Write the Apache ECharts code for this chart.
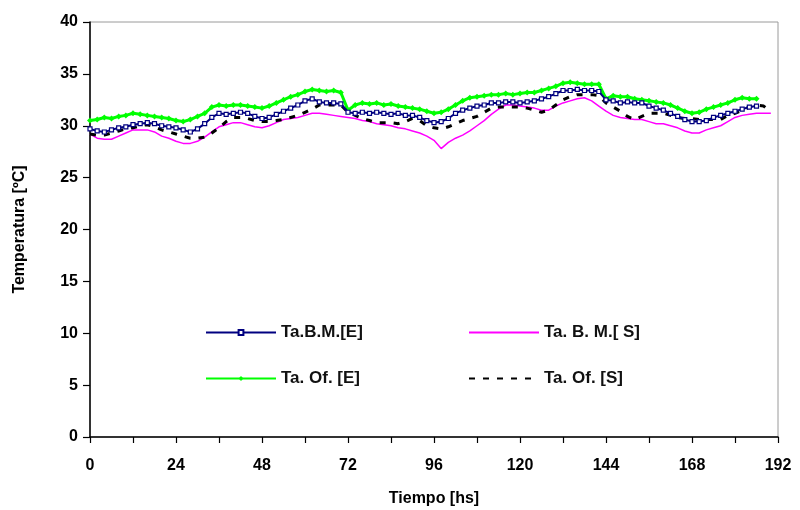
<!DOCTYPE html>
<html>
<head>
<meta charset="utf-8">
<script src="https://cdn.jsdelivr.net/npm/echarts@6/dist/echarts.min.js"></script>
<style>html,body{margin:0;padding:0;background:#fff;}#chart{width:800px;height:510px;}</style>
</head>
<body>
<div id="chart"></div>
<script>
var hours = [0,2,4,6,8,10,12,14,16,18,20,22,24,26,28,30,32,34,36,38,40,42,44,46,48,50,52,54,56,58,60,62,64,66,68,70,72,74,76,78,80,82,84,86,88,90,92,94,96,98,100,102,104,106,108,110,112,114,116,118,120,122,124,126,128,130,132,134,136,138,140,142,144,146,148,150,152,154,156,158,160,162,164,166,168,170,172,174,176,178,180,182,184,186,188,190];

var taBME = [29.7,29.5,29.4,29.6,29.8,29.9,30.1,30.2,30.3,30.2,30.0,29.9,29.8,29.6,29.4,29.7,30.2,30.8,31.2,31.1,31.2,31.3,31.2,30.9,30.7,30.8,31.1,31.4,31.7,32.0,32.4,32.6,32.3,32.2,32.2,32.1,31.3,31.2,31.3,31.2,31.3,31.2,31.1,31.2,31.0,31.0,30.8,30.5,30.3,30.4,30.7,31.2,31.5,31.7,31.9,32.0,32.2,32.2,32.3,32.3,32.2,32.3,32.4,32.6,32.8,33.1,33.4,33.4,33.5,33.4,33.4,33.3,32.5,32.4,32.2,32.3,32.2,32.2,31.9,31.7,31.5,31.2,30.9,30.6,30.4,30.4,30.5,30.8,31.0,31.2,31.4,31.6,31.8,31.9,null,null];

var taBMS = [29.2,28.8,28.7,28.7,29.0,29.3,29.6,29.6,29.6,29.4,29.0,28.8,28.5,28.3,28.3,28.5,28.9,29.4,29.9,30.1,30.3,30.3,30.1,29.9,29.8,30.0,30.3,30.6,30.7,30.8,31.0,31.2,31.2,31.1,31.0,30.9,30.8,30.7,30.5,30.4,30.2,30.1,30.0,29.8,29.7,29.5,29.3,29.0,28.6,27.8,28.4,28.8,29.1,29.5,30.0,30.5,31.1,31.6,32.0,32.0,31.9,31.8,31.7,31.5,31.5,31.9,32.2,32.4,32.6,32.7,32.4,31.9,31.4,31.0,30.8,30.7,30.6,30.6,30.4,30.2,30.2,30.0,29.8,29.5,29.3,29.3,29.6,29.8,30.0,30.4,30.8,31.0,31.1,31.2,31.2,31.2];

var taOfE = [30.5,30.6,30.8,30.7,30.9,31.0,31.2,31.1,31.0,30.9,30.8,30.7,30.5,30.4,30.6,30.9,31.2,31.8,32.0,31.9,32.0,32.0,31.9,31.8,31.7,31.9,32.2,32.5,32.8,33.0,33.3,33.5,33.4,33.3,33.4,33.2,31.5,32.0,32.2,32.1,32.2,32.0,32.1,31.9,31.8,31.7,31.6,31.4,31.2,31.3,31.6,32.0,32.4,32.7,32.8,32.9,33.0,33.0,33.1,33.0,33.1,33.2,33.2,33.4,33.6,33.8,34.1,34.2,34.1,34.0,34.0,34.0,32.6,32.9,32.8,32.8,32.6,32.5,32.4,32.3,32.2,32.0,31.7,31.4,31.2,31.3,31.6,31.8,32.0,32.2,32.5,32.7,32.6,32.6,null,null];

var taOfS = [29.2,29.1,29.1,29.3,29.5,29.7,29.8,30.0,30.1,29.9,29.6,29.4,29.2,29.0,28.8,28.8,28.9,29.3,29.8,30.4,30.8,30.8,30.7,30.5,30.4,30.4,30.5,30.6,30.8,31.0,31.3,31.6,32.0,32.0,32.0,32.0,31.3,31.0,30.7,30.5,30.3,30.3,30.3,30.2,30.4,30.7,30.5,30.0,29.8,29.7,29.9,30.2,30.5,30.7,30.9,31.3,31.7,31.8,31.8,31.8,31.8,31.7,31.5,31.3,31.5,32.0,32.5,32.8,33.0,33.0,33.0,32.9,32.2,31.8,31.4,30.9,30.6,30.9,31.2,31.2,31.2,31.0,30.8,30.7,30.7,30.6,30.6,30.6,30.6,31.0,31.2,31.5,31.8,32.0,31.9,31.3];

var xTicks = [0,24,48,72,96,120,144,168,192];
var seriesNames = ['Ta.B.M.[E]','Ta. B. M.[ S]','Ta. Of. [E]','Ta. Of. [S]'];

function pairs(vals){
  var out = [];
  for (var i = 0; i < hours.length; i++) {
    if (vals[i] !== null) out.push([hours[i], vals[i]]);
  }
  return out;
}

var chart = echarts.init(document.getElementById('chart'), null, {renderer:'canvas'});
var font = '"Liberation Sans", Arial, sans-serif';
var legTxt = {fontFamily: font, fontWeight: 'bold', fontSize: 17, color: '#111'};
function leg(name, left, top, hideSymbol, ih) {
  var item = {name: name};
  if (hideSymbol) item.itemStyle = {opacity: 0};
  return {data: [item], left: left, top: top, itemWidth: 70, itemHeight: ih || 7, itemGap: 0,
          padding: 0, textStyle: legTxt, selectedMode: false};
}
var option = {
  animation: false,
  backgroundColor: '#fff',
  grid: {left: 90, right: 22, top: 22, bottom: 73, show: true, borderColor: '#9a9a9a', borderWidth: 1,
         outerBoundsMode: 'none', containLabel: false},
  legend: [
    leg(seriesNames[0], 205, 324, false, 6),
    leg(seriesNames[1], 468, 324, true),
    leg(seriesNames[2], 205, 370, false, 6),
    leg(seriesNames[3], 468, 370, true)
  ],
  xAxis: {
    type: 'value', min: 0, max: 192, interval: 24,
    name: 'Tiempo [hs]', nameLocation: 'middle', nameGap: 54,
    nameTextStyle: {fontFamily: font, fontWeight: 'bold', fontSize: 16, color: '#000'},
    axisLine: {show: true, lineStyle: {color: '#000', width: 1.5}},
    axisTick: {show: true, length: 6, inside: false, lineStyle: {color: '#000', width: 1.2}},
    minorTick: {show: true, splitNumber: 2, length: 6, lineStyle: {color: '#000', width: 1.2}},
    splitLine: {show: false},
    axisLabel: {fontFamily: font, fontWeight: 'bold', fontSize: 16, color: '#000', margin: 21,
      formatter: function(v){ return xTicks.indexOf(v) >= 0 ? String(v) : ''; }}
  },
  yAxis: {
    type: 'value', min: 0, max: 40, interval: 5,
    name: 'Temperatura [ºC]', nameLocation: 'middle', nameGap: 62,
    nameTextStyle: {fontFamily: font, fontWeight: 'bold', fontSize: 16, color: '#000'},
    axisLine: {show: true, lineStyle: {color: '#000', width: 1.5}},
    axisTick: {show: true, length: 7, lineStyle: {color: '#000', width: 1.2}},
    splitLine: {show: false},
    axisLabel: {fontFamily: font, fontWeight: 'bold', fontSize: 16, color: '#000', margin: 12}
  },
  series: [
    {
      name: seriesNames[0], type: 'line', data: pairs(taBME), z: 3,
      symbol: 'rect', symbolSize: 4, showSymbol: true,
      lineStyle: {color: '#000080', width: 2},
      itemStyle: {color: '#ffffff', borderColor: '#000080', borderWidth: 1.2}
    },
    {
      name: seriesNames[1], type: 'line', data: pairs(taBMS), z: 2,
      symbol: 'none', showSymbol: false,
      lineStyle: {color: '#ff00ff', width: 1.5},
      itemStyle: {color: '#ff00ff'}
    },
    {
      name: seriesNames[2], type: 'line', data: pairs(taOfE), z: 1,
      symbol: 'diamond', symbolSize: 6, showSymbol: true,
      lineStyle: {color: '#00ff00', width: 3},
      itemStyle: {color: '#00ff00', borderColor: '#00ff00', borderWidth: 0}
    },
    {
      name: seriesNames[3], type: 'line', data: pairs(taOfS), z: 2,
      symbol: 'none', showSymbol: false,
      lineStyle: {color: '#000000', width: 3, type: [6, 8]},
      itemStyle: {color: '#000000'}
    }
  ]
};
chart.setOption(option);
</script>
</body>
</html>
